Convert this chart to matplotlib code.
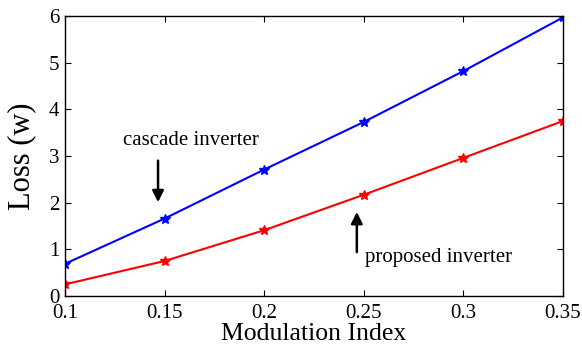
import matplotlib
matplotlib.use("Agg")
import matplotlib.pyplot as plt

# data
mod_index = [0.1, 0.15, 0.2, 0.25, 0.3, 0.35]
cascade_loss = [0.69, 1.66, 2.71, 3.73, 4.82, 5.97]
proposed_loss = [0.25, 0.75, 1.41, 2.17, 2.96, 3.75]
x_ticks = [0.1, 0.15, 0.2, 0.25, 0.3, 0.35]
x_tick_labels = ["0.1", "0.15", "0.2", "0.25", "0.3", "0.35"]
y_ticks = [0, 1, 2, 3, 4, 5, 6]

plt.rcParams["font.family"] = ["Liberation Serif", "DejaVu Serif"]

fig = plt.figure(figsize=(5.82, 3.52), dpi=100)
ax = fig.add_axes([65 / 582, 1 - 296 / 352, (563 - 65) / 582, (296 - 16) / 352])

ax.plot(mod_index, cascade_loss, color="blue", lw=1.5, marker="*", ms=7)
ax.plot(mod_index, proposed_loss, color="red", lw=1.5, marker="*", ms=7)

ax.set_xlim(0.1, 0.35)
ax.set_ylim(0, 6)
ax.set_xticks(x_ticks)
ax.set_xticklabels(x_tick_labels)
ax.set_yticks(y_ticks)
ax.tick_params(direction="in", top=True, right=True, labelsize=15, length=4)
ax.tick_params(axis="x", pad=6)
ax.tick_params(axis="y", pad=4)
for s in ax.spines.values():
    s.set_linewidth(1.0)

ax.set_xlabel("Modulation Index", fontsize=18.5, labelpad=0)
ax.set_ylabel("Loss (w)", fontsize=22, labelpad=9)

# annotations
ax.annotate("", xy=(0.1467, 1.95), xytext=(0.1467, 2.96),
            arrowprops=dict(arrowstyle="-|>", color="black", lw=1.8, mutation_scale=17))
ax.text(0.1633, 3.34, "cascade inverter", fontsize=15, ha="center", va="center")
ax.annotate("", xy=(0.2465, 1.86), xytext=(0.2465, 0.88),
            arrowprops=dict(arrowstyle="-|>", color="black", lw=1.8, mutation_scale=17))
ax.text(0.2508, 0.82, "proposed inverter", fontsize=15, ha="left", va="center")

fig.savefig("out.png", dpi=100)
